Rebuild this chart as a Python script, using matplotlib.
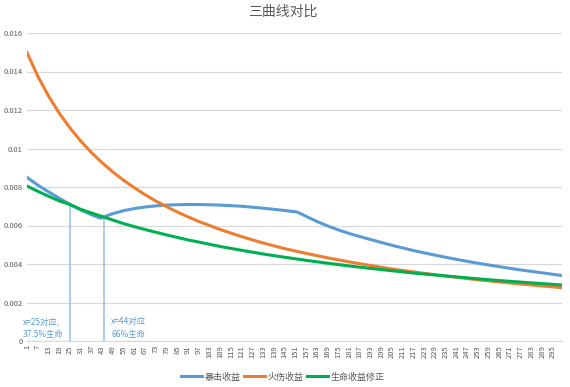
import matplotlib
matplotlib.use("Agg")
import matplotlib.pyplot as plt

plt.rcParams['font.family'] = ['Noto Sans CJK SC', 'DejaVu Sans']

# values
x_vals = [1, 7, 13, 19, 25, 31, 37, 43, 49, 55, 61, 67, 73, 79, 85, 91, 97,
          109, 121, 133, 145, 157, 169, 181, 193, 205, 217, 229, 241, 253,
          265, 277, 289, 300]
fire = [0.01498, 0.01376, 0.01273, 0.01184, 0.01107, 0.01039, 0.00979, 0.00926,
        0.00878, 0.00835, 0.00796, 0.00760, 0.00727, 0.00698, 0.00670, 0.00645,
        0.00621, 0.00579, 0.00542, 0.00509, 0.00480, 0.00455, 0.00432, 0.00411,
        0.00392, 0.00374, 0.00359, 0.00344, 0.00331, 0.00318, 0.00307, 0.00296,
        0.00286, 0.00277]
life = [0.00805, 0.00778, 0.00752, 0.00728, 0.00709, 0.00684, 0.00665, 0.00647,
        0.00628, 0.00610, 0.00594, 0.00579, 0.00565, 0.00551, 0.00538, 0.00525,
        0.00514, 0.00491, 0.00471, 0.00452, 0.00435, 0.00419, 0.00404, 0.00390,
        0.00377, 0.00365, 0.00353, 0.00343, 0.00333, 0.00323, 0.00314, 0.00306,
        0.00298, 0.00291]

crit_x = [1, 7, 13, 19, 25, 31, 37, 42, 49, 55, 61, 67, 73, 79, 85, 91, 97,
          109, 121, 133, 145, 152, 158, 164, 170, 176, 182, 193, 205, 217, 229,
          241, 253, 265, 277, 289, 300]
crit = [0.00850, 0.00810, 0.00775, 0.00742, 0.00710, 0.00681, 0.00656, 0.00638,
        0.00662, 0.00677, 0.00688, 0.00696, 0.00702, 0.00706, 0.00708, 0.00709,
        0.00709, 0.00706, 0.00700, 0.00690, 0.00678, 0.00670, 0.00643, 0.00617,
        0.00594, 0.00574, 0.00556, 0.00527, 0.00497, 0.00470, 0.00446, 0.00424,
        0.00404, 0.00386, 0.00369, 0.00354, 0.00340]

mark_x = [25, 44]
mark_top = [0.0071, 0.0065]
mark_text = ['x=25对应,\n37.5%生命', 'x=44对应\n66%生命']

series_names = ['暴击收益', '火伤收益', '生命收益修正']
colors = ['#5B9BD5', '#ED7D31', '#00B050']

x_ticks = list(range(1, 301, 6))
y_ticks = [0, 0.002, 0.004, 0.006, 0.008, 0.01, 0.012, 0.014, 0.016]
y_labels = ['0', '0.002', '0.004', '0.006', '0.008', '0.01', '0.012', '0.014', '0.016']

fig = plt.figure(figsize=(5.7, 3.87), dpi=100)
ax = fig.add_axes([27 / 570, 46 / 387, 535 / 570, 308 / 387])

ax.set_ylim(0, 0.016)
ax.set_xlim(1, 300)
ax.set_yticks(y_ticks)
ax.set_yticklabels(y_labels)
ax.set_xticks(x_ticks)
ax.set_xticklabels([str(t) for t in x_ticks], rotation=90)
ax.tick_params(axis='both', length=0, labelsize=5.5, colors='#595959', pad=3)
ax.grid(axis='y', color='#D9D9D9', linewidth=0.9)
ax.set_axisbelow(True)
for side in ['top', 'right', 'left']:
    ax.spines[side].set_visible(False)
ax.spines['bottom'].set_color('#D9D9D9')
ax.spines['bottom'].set_linewidth(0.9)

ax.vlines(mark_x, 0, mark_top, color='#9DC3E6', linewidth=1.2, zorder=2)

ax.plot(crit_x, crit, color=colors[0], linewidth=2.2, label=series_names[0], zorder=3)
ax.plot(x_vals, fire, color=colors[1], linewidth=2.2, label=series_names[1], zorder=3)
ax.plot(x_vals, life, color=colors[2], linewidth=2.2, label=series_names[2], zorder=4)

ax.text(-1.2, 0.00068, mark_text[0], color='#5B9BD5', fontsize=6,
        va='center', ha='left', linespacing=1.5)
ax.text(48, 0.00068, mark_text[1], color='#5B9BD5', fontsize=6,
        va='center', ha='left', linespacing=1.5)

fig.text(283 / 570, 1 - 12 / 387, '三曲线对比', ha='center', va='center',
         fontsize=10, color='#595959')

fig.legend(loc='center', bbox_to_anchor=(283 / 570, 10 / 387), ncol=3,
           frameon=False, fontsize=6.5, labelcolor='#595959',
           handlelength=2.3, handletextpad=0.3, columnspacing=0.4)

fig.savefig('out.png', dpi=100)
